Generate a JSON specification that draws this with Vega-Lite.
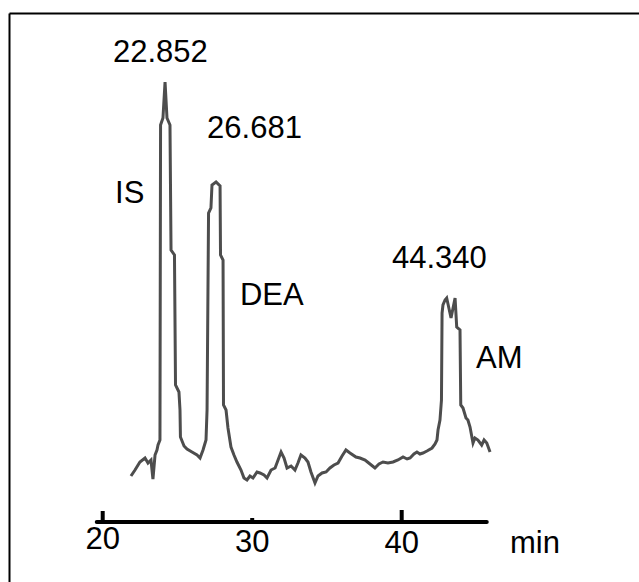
{
  "$schema": "https://vega.github.io/schema/vega-lite/v6.json",
  "autosize": "none",
  "width": 630,
  "height": 569,
  "padding": {"left": 9, "top": 13, "right": 0, "bottom": 0},
  "background": "white",
  "config": {
    "view": {"stroke": null},
    "font": "Liberation Sans",
    "axis": {"domainColor": "#000000", "domainWidth": 2, "ticks": false, "labels": false, "grid": false, "title": null}
  },
  "datasets": {
    "trace": [
      {"t": 21.89, "v": 46}, {"t": 22.16, "v": 52}, {"t": 22.49, "v": 60}, {"t": 22.83, "v": 64},
      {"t": 23.03, "v": 59}, {"t": 23.23, "v": 62}, {"t": 23.36, "v": 43}, {"t": 23.5, "v": 67},
      {"t": 23.63, "v": 72}, {"t": 23.7, "v": 77}, {"t": 23.83, "v": 82}, {"t": 23.87, "v": 397},
      {"t": 24.03, "v": 404}, {"t": 24.17, "v": 440}, {"t": 24.3, "v": 404}, {"t": 24.5, "v": 397},
      {"t": 24.57, "v": 272}, {"t": 24.8, "v": 267}, {"t": 24.87, "v": 137}, {"t": 25.1, "v": 130},
      {"t": 25.17, "v": 112}, {"t": 25.2, "v": 85}, {"t": 25.44, "v": 76}, {"t": 25.64, "v": 73},
      {"t": 25.97, "v": 70}, {"t": 26.31, "v": 67}, {"t": 26.51, "v": 64}, {"t": 26.71, "v": 72},
      {"t": 26.91, "v": 82}, {"t": 26.98, "v": 112}, {"t": 27.08, "v": 309}, {"t": 27.24, "v": 314},
      {"t": 27.31, "v": 337}, {"t": 27.58, "v": 340}, {"t": 27.85, "v": 336}, {"t": 27.88, "v": 267},
      {"t": 28.05, "v": 262}, {"t": 28.08, "v": 117}, {"t": 28.25, "v": 112}, {"t": 28.38, "v": 94},
      {"t": 28.58, "v": 75}, {"t": 28.78, "v": 67}, {"t": 28.98, "v": 60}, {"t": 29.25, "v": 52},
      {"t": 29.45, "v": 44}, {"t": 29.65, "v": 42}, {"t": 29.85, "v": 46}, {"t": 30.05, "v": 44},
      {"t": 30.32, "v": 50}, {"t": 30.52, "v": 49}, {"t": 30.79, "v": 47}, {"t": 30.99, "v": 44},
      {"t": 31.26, "v": 52}, {"t": 31.53, "v": 54}, {"t": 31.73, "v": 62}, {"t": 31.93, "v": 70},
      {"t": 32.13, "v": 64}, {"t": 32.33, "v": 54}, {"t": 32.6, "v": 56}, {"t": 32.86, "v": 52},
      {"t": 33.06, "v": 59}, {"t": 33.26, "v": 67}, {"t": 33.53, "v": 64}, {"t": 33.73, "v": 60},
      {"t": 33.93, "v": 50}, {"t": 34.2, "v": 39}, {"t": 34.4, "v": 46}, {"t": 34.67, "v": 49},
      {"t": 34.94, "v": 50}, {"t": 35.2, "v": 54}, {"t": 35.47, "v": 57}, {"t": 35.74, "v": 59},
      {"t": 36.01, "v": 66}, {"t": 36.27, "v": 72}, {"t": 36.54, "v": 69}, {"t": 36.94, "v": 65},
      {"t": 37.21, "v": 64}, {"t": 37.55, "v": 62}, {"t": 37.88, "v": 58}, {"t": 38.21, "v": 54},
      {"t": 38.48, "v": 58}, {"t": 38.75, "v": 60}, {"t": 39.08, "v": 59}, {"t": 39.42, "v": 60},
      {"t": 39.75, "v": 62}, {"t": 40.09, "v": 65}, {"t": 40.36, "v": 63}, {"t": 40.56, "v": 64},
      {"t": 40.82, "v": 68}, {"t": 41.02, "v": 70}, {"t": 41.22, "v": 68}, {"t": 41.42, "v": 69},
      {"t": 41.69, "v": 71}, {"t": 42.03, "v": 74}, {"t": 42.23, "v": 78}, {"t": 42.36, "v": 82},
      {"t": 42.43, "v": 92}, {"t": 42.56, "v": 102}, {"t": 42.66, "v": 122}, {"t": 42.7, "v": 209},
      {"t": 42.76, "v": 217}, {"t": 42.9, "v": 222}, {"t": 43.01, "v": 224}, {"t": 43.3, "v": 204},
      {"t": 43.57, "v": 224}, {"t": 43.68, "v": 195}, {"t": 43.9, "v": 192}, {"t": 43.95, "v": 117},
      {"t": 44.1, "v": 114}, {"t": 44.3, "v": 104}, {"t": 44.43, "v": 102}, {"t": 44.57, "v": 95},
      {"t": 44.77, "v": 79}, {"t": 44.9, "v": 84}, {"t": 45.1, "v": 82}, {"t": 45.35, "v": 77},
      {"t": 45.51, "v": 82}, {"t": 45.69, "v": 79}, {"t": 45.91, "v": 70}
    ],
    "timeaxis": [{"start": 19.6, "end": 45.69, "v": 0}],
    "ticks": [
      {"t": 20, "v0": 0, "v1": 11},
      {"t": 30, "v0": 0, "v1": 4},
      {"t": 40, "v0": 0, "v1": 12}
    ],
    "ticklabels": [
      {"t": 20, "v": -27, "label": "20"},
      {"t": 30, "v": -30, "label": "30"},
      {"t": 40, "v": -31, "label": "40"}
    ],
    "texts": [
      {"t": 20.69, "v": 460, "label": "22.852"},
      {"t": 26.98, "v": 384, "label": "26.681"},
      {"t": 20.83, "v": 319, "label": "IS"},
      {"t": 29.18, "v": 217, "label": "DEA"},
      {"t": 39.35, "v": 254, "label": "44.340"},
      {"t": 44.97, "v": 154, "label": "AM"},
      {"t": 47.24, "v": -31, "label": "min"}
    ]
  },
  "layer": [
    {
      "data": {"name": "trace"},
      "mark": {"type": "line", "color": "#4d4d4d", "strokeWidth": 3, "strokeJoin": "miter"},
      "encoding": {
        "x": {"field": "t", "type": "quantitative", "scale": {"domain": [13.732, 55.873], "nice": false, "zero": false}, "axis": {"orient": "top"}},
        "y": {"field": "v", "type": "quantitative", "scale": {"domain": [-60, 509], "nice": false, "zero": false}, "axis": {"orient": "left"}}
      }
    },
    {
      "data": {"name": "timeaxis"},
      "mark": {"type": "rule", "color": "#000000", "strokeWidth": 4, "strokeCap": "round"},
      "encoding": {
        "x": {"field": "start", "type": "quantitative"},
        "x2": {"field": "end"},
        "y": {"field": "v", "type": "quantitative"}
      }
    },
    {
      "data": {"name": "ticks"},
      "mark": {"type": "rule", "color": "#000000", "strokeWidth": 4},
      "encoding": {
        "x": {"field": "t", "type": "quantitative"},
        "y": {"field": "v0", "type": "quantitative"},
        "y2": {"field": "v1"}
      }
    },
    {
      "data": {"name": "ticklabels"},
      "mark": {"type": "text", "font": "Liberation Sans", "fontSize": 31, "color": "#000000", "align": "center", "baseline": "alphabetic"},
      "encoding": {
        "x": {"field": "t", "type": "quantitative"},
        "y": {"field": "v", "type": "quantitative"},
        "text": {"field": "label"}
      }
    },
    {
      "data": {"name": "texts"},
      "mark": {"type": "text", "font": "Liberation Sans", "fontSize": 31, "color": "#000000", "align": "left", "baseline": "alphabetic"},
      "encoding": {
        "x": {"field": "t", "type": "quantitative"},
        "y": {"field": "v", "type": "quantitative"},
        "text": {"field": "label"}
      }
    }
  ]
}
